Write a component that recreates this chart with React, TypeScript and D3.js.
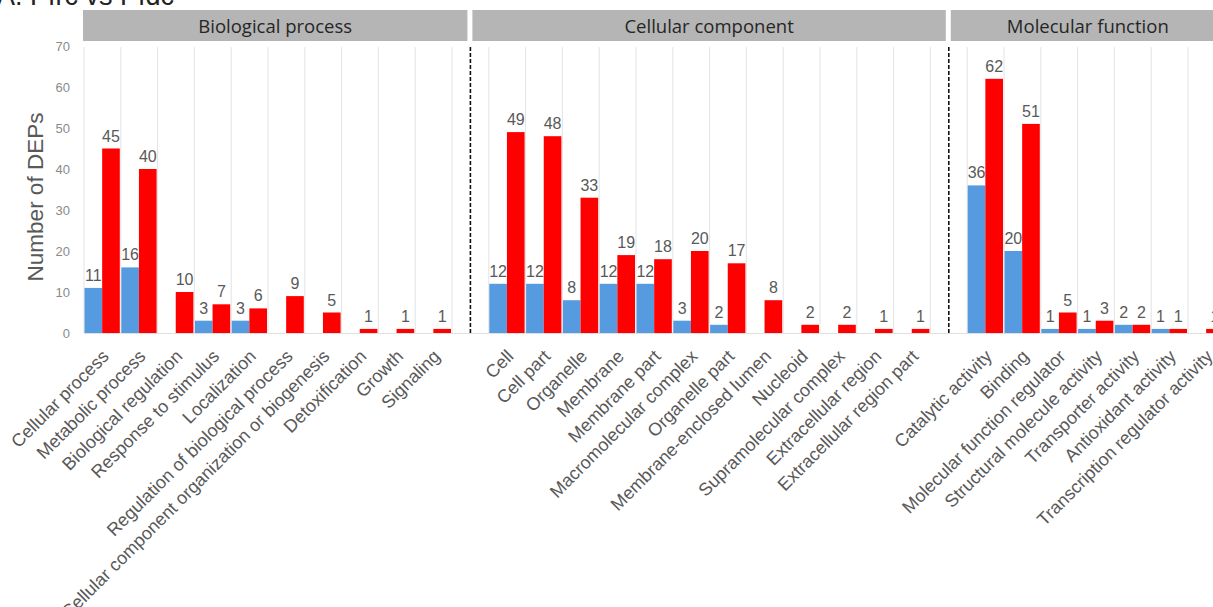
import React from "react";
import * as d3 from "d3";

const bpCategories = ["Cellular process", "Metabolic process", "Biological regulation", "Response to stimulus", "Localization", "Regulation of biological process", "Cellular component organization or biogenesis", "Detoxification", "Growth", "Signaling"];
const bpBlue: (number | null)[] = [11, 16, null, 3, 3, null, null, null, null, null];
const bpRed: (number | null)[] = [45, 40, 10, 7, 6, 9, 5, 1, 1, 1];

const ccCategories = ["Cell", "Cell part", "Organelle", "Membrane", "Membrane part", "Macromolecular complex", "Organelle part", "Membrane-enclosed lumen", "Nucleoid", "Supramolecular complex", "Extracellular region", "Extracellular region part"];
const ccBlue: (number | null)[] = [12, 12, 8, 12, 12, 3, 2, null, null, null, null, null];
const ccRed: (number | null)[] = [49, 48, 33, 19, 18, 20, 17, 8, 2, 2, 1, 1];

const mfCategories = ["Catalytic activity", "Binding", "Molecular function regulator", "Structural molecule activity", "Transporter activity", "Antioxidant activity", "Transcription regulator activity"];
const mfBlue: (number | null)[] = [36, 20, 1, 1, 2, 1, null];
const mfRed: (number | null)[] = [62, 51, 5, 3, 2, 1, 1];

const panelTitles = ["Biological process", "Cellular component", "Molecular function"];
const yTicks = [0, 10, 20, 30, 40, 50, 60, 70];
const seriesKeys = ["blue", "red"];
const seriesColors = ["#569be0", "#ff0000"];
const title = "A. Pfrc vs Pfdc";
const yLabel = "Number of DEPs";

export default function App() {
  const W = 1213, H = 607;
  const left = 84, step = 36.8;
  const panels = [
    { cats: bpCategories, blue: bpBlue, red: bpRed },
    { cats: ccCategories, blue: ccBlue, red: ccRed },
    { cats: mfCategories, blue: mfBlue, red: mfRed },
  ];
  const domain: string[] = [];
  panels.forEach((p, i) => {
    p.cats.forEach((c) => domain.push(c));
    if (i < panels.length - 1) domain.push("__gap" + i);
  });
  const right = left + domain.length * step;
  const x = d3.scaleBand<string>().domain(domain).range([left, right]).padding(0);
  const bw = x.bandwidth();
  const xs = d3.scaleBand<string>().domain(seriesKeys).range([0.5, bw - 1]).padding(0);
  const y = d3.scaleLinear().domain([0, 70]).range([333, 46]);

  const gapCenters = [0, 1].map((i) => (x("__gap" + i) as number) + bw / 2);
  const stripBounds = [
    [left - 1, gapCenters[0] - 3],
    [gapCenters[0] + 2, gapCenters[1] - 3],
    [gapCenters[1] + 2, right],
  ];

  const labelColor = "#595959";
  const font = "'Liberation Sans', Arial, sans-serif";

  return (
    <svg width={W} height={H} style={{ position: "absolute", left: 0, top: 0, background: "#fff" }} fontFamily={font}>
      <text x={-3} y={5} fontSize={27} fill="#222">{title}</text>
      {panelTitles.map((t, i) => (
        <g key={t}>
          <rect x={stripBounds[i][0]} y={10} width={stripBounds[i][1] - stripBounds[i][0]} height={31} fill="#b5b5b5" />
          <text x={(stripBounds[i][0] + stripBounds[i][1]) / 2} y={33} textAnchor="middle" fontSize={18.5} fill="#262626" fontFamily="'Open Sans', sans-serif">{t}</text>
        </g>
      ))}
      {d3.range(domain.length + 1).map((i) => (
        <line key={i} x1={left + i * step} x2={left + i * step} y1={47} y2={333} stroke="#e3e3e3" strokeWidth={1} />
      ))}
      <line x1={left} x2={W} y1={y(0) + 0.5} y2={y(0) + 0.5} stroke="#e0e0e0" strokeWidth={1} />
      {yTicks.map((t) => (
        <text key={t} x={70} y={y(t)} dy="0.35em" textAnchor="end" fontSize={13} fill="#8a8a8a">{t}</text>
      ))}
      <text transform={`translate(43,197) rotate(-90)`} textAnchor="middle" fontSize={22.5} fill={labelColor}>{yLabel}</text>
      {panels.map((p, pi) =>
        p.cats.map((c, ci) => {
          const x0 = x(c) as number;
          const vals = [p.blue[ci], p.red[ci]];
          return (
            <g key={pi + "-" + ci}>
              {vals.map((v, si) => {
                if (v == null) return null;
                const bx = x0 + (xs(seriesKeys[si]) as number);
                const w = xs.bandwidth();
                return (
                  <g key={si}>
                    <rect x={bx} y={y(v)} width={w} height={y(0) - y(v)} fill={seriesColors[si]} />
                    <text x={bx + w / 2} y={y(v) - 7} textAnchor="middle" fontSize={16} fill={labelColor}>{v}</text>
                  </g>
                );
              })}
              <text transform={`translate(${x0 + bw / 2 + 3},${353}) rotate(-45)`} dy="0.35em" textAnchor="end" fontSize={18} fill={labelColor}>{c}</text>
            </g>
          );
        })
      )}
      {gapCenters.map((g, i) => (
        <line key={i} x1={g} x2={g} y1={47} y2={335} stroke="#111" strokeWidth={1.6} strokeDasharray="4,2" />
      ))}
    </svg>
  );
}
